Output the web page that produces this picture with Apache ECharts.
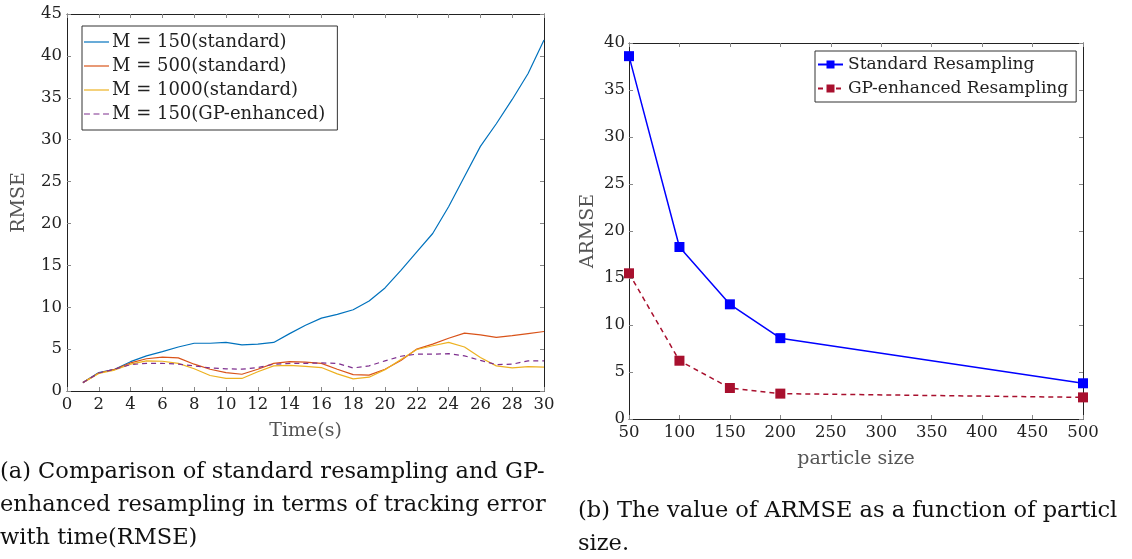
<!DOCTYPE html>
<html>
<head>
<meta charset="utf-8">
<script src="https://cdn.jsdelivr.net/npm/echarts@6/dist/echarts.min.js"></script>
<style>
html,body{margin:0;padding:0;background:#fff;}
#c{width:1132px;height:559px;}
</style>
</head>
<body>
<div id="c"></div>
<script>
// ---- Data: left chart (RMSE vs time) ----
const timeSteps = [1,2,3,4,5,6,7,8,9,10,11,12,13,14,15,16,17,18,19,20,21,22,23,24,25,26,27,28,29,30];
const rmse150 = [1.0,2.2,2.6,3.5,4.2,4.7,5.25,5.7,5.7,5.8,5.5,5.6,5.8,6.85,7.85,8.7,9.15,9.7,10.75,12.3,14.4,16.6,18.8,22.0,25.6,29.2,31.9,34.8,37.9,41.9];
const rmse500 = [1.0,2.15,2.6,3.35,3.85,4.05,3.95,3.2,2.6,2.2,2.0,2.6,3.3,3.5,3.45,3.3,2.6,1.95,1.9,2.6,3.65,5.0,5.6,6.3,6.9,6.7,6.4,6.6,6.85,7.1];
const rmse1000 = [1.0,2.1,2.5,3.2,3.6,3.55,3.3,2.65,1.85,1.5,1.5,2.3,3.0,3.05,2.95,2.8,2.05,1.45,1.65,2.55,3.75,4.95,5.4,5.8,5.25,4.0,3.0,2.75,2.9,2.85];
const rmse150gp = [1.0,2.15,2.6,3.15,3.3,3.3,3.2,3.0,2.75,2.65,2.6,2.8,3.2,3.3,3.3,3.35,3.3,2.75,3.0,3.6,4.15,4.4,4.4,4.45,4.2,3.65,3.15,3.2,3.6,3.6];
const leftNames = ['M = 150(standard)','M = 500(standard)','M = 1000(standard)','M = 150(GP-enhanced)'];

// ---- Data: right chart (ARMSE vs particle size) ----
const particleSizes = [50,100,150,200,500];
const armseStandard = [38.6,18.3,12.2,8.6,3.8];
const armseGP = [15.5,6.2,3.3,2.7,2.3];
const rightNames = ['Standard Resampling','GP-enhanced Resampling'];

const captionA = ['(a) Comparison of standard resampling and GP-','enhanced resampling in terms of tracking error','with time(RMSE)'];
const captionB = ['(b) The value of ARMSE as a function of particl','size.'];

const FONT = 'DejaVu Serif';
const pairs = (xs, ys) => xs.map((x,i)=>[x, ys[i]]);

const tickStyle = {show:true, inside:true, length:4, lineStyle:{color:'#888', width:1}};
const lineAx = {show:true, onZero:false, lineStyle:{color:'#222', width:1}};
const lbl = {color:'#222', fontFamily:FONT, fontSize:16.5};
const nameStyle = {fontFamily:FONT, fontSize:19, color:'#555'};

const dashIcon = 'path://M0,0h5v1h-5z M8,0h5v1h-5z M16,0h5v1h-5z';
const solidIcon = 'path://M0,0h21v1h-21z';

const chart = echarts.init(document.getElementById('c'), null, {renderer:'canvas'});

const option = {
  backgroundColor:'#fff',
  animation:false,
  grid:[
    {left:67, top:14, width:477, height:377, containLabel:false},
    {left:629, top:43, width:454, height:376, containLabel:false}
  ],
  xAxis:[
    {gridIndex:0, type:'value', min:0, max:30, interval:2, position:'bottom',
     axisLine:lineAx, axisTick:tickStyle, splitLine:{show:false},
     axisLabel:Object.assign({margin:5}, lbl),
     name:'Time(s)', nameLocation:'middle', nameGap:31, nameTextStyle:nameStyle},
    {gridIndex:0, type:'value', min:0, max:30, interval:2, position:'top',
     axisLine:lineAx, axisTick:tickStyle, splitLine:{show:false}, axisLabel:{show:false}},
    {gridIndex:1, type:'value', min:50, max:500, interval:50, position:'bottom',
     axisLine:lineAx, axisTick:tickStyle, splitLine:{show:false},
     axisLabel:Object.assign({margin:5}, lbl),
     name:'particle size', nameLocation:'middle', nameGap:31, nameTextStyle:nameStyle},
    {gridIndex:1, type:'value', min:50, max:500, interval:50, position:'top',
     axisLine:lineAx, axisTick:tickStyle, splitLine:{show:false}, axisLabel:{show:false}}
  ],
  yAxis:[
    {gridIndex:0, type:'value', min:0, max:45, interval:5, position:'left',
     axisLine:lineAx, axisTick:tickStyle, splitLine:{show:false},
     axisLabel:Object.assign({margin:5}, lbl),
     name:'RMSE', nameLocation:'middle', nameGap:38, nameTextStyle:nameStyle},
    {gridIndex:0, type:'value', min:0, max:45, interval:5, position:'right',
     axisLine:lineAx, axisTick:tickStyle, splitLine:{show:false}, axisLabel:{show:false}},
    {gridIndex:1, type:'value', min:0, max:40, interval:5, position:'left',
     axisLine:lineAx, axisTick:tickStyle, splitLine:{show:false},
     axisLabel:Object.assign({margin:4}, lbl),
     name:'ARMSE', nameLocation:'middle', nameGap:31, nameTextStyle:nameStyle},
    {gridIndex:1, type:'value', min:0, max:40, interval:5, position:'right',
     axisLine:lineAx, axisTick:tickStyle, splitLine:{show:false}, axisLabel:{show:false}}
  ],
  legend:[
    {data:[
       {name:leftNames[0], icon:solidIcon},
       {name:leftNames[1], icon:solidIcon},
       {name:leftNames[2], icon:solidIcon},
       {name:leftNames[3], icon:dashIcon}],
     orient:'vertical', left:82, top:26, itemWidth:25, itemHeight:1.3, itemGap:6,
     padding:[7,12,7,2], borderColor:'#333', borderWidth:1, backgroundColor:'#fff',
     textStyle:{fontFamily:FONT, fontSize:18, color:'#222', padding:[0,0,0,-2]}},
    {data:rightNames, orient:'vertical', left:815, top:51, itemWidth:25, itemHeight:10, itemGap:7,
     padding:[5,8,5,2], borderColor:'#333', borderWidth:1, backgroundColor:'#fff',
     textStyle:{fontFamily:FONT, fontSize:17, color:'#222'}}
  ],
  series:[
    {name:leftNames[0], type:'line', xAxisIndex:0, yAxisIndex:0, data:pairs(timeSteps, rmse150),
     symbol:'none', color:'#0072BD', lineStyle:{width:1.2}},
    {name:leftNames[1], type:'line', xAxisIndex:0, yAxisIndex:0, data:pairs(timeSteps, rmse500),
     symbol:'none', color:'#D95319', lineStyle:{width:1.2}},
    {name:leftNames[2], type:'line', xAxisIndex:0, yAxisIndex:0, data:pairs(timeSteps, rmse1000),
     symbol:'none', color:'#EDB120', lineStyle:{width:1.2}},
    {name:leftNames[3], type:'line', xAxisIndex:0, yAxisIndex:0, data:pairs(timeSteps, rmse150gp),
     symbol:'none', color:'#7E2F8E', lineStyle:{width:1.2, type:[5,4]}},
    {name:rightNames[0], type:'line', xAxisIndex:2, yAxisIndex:2, data:pairs(particleSizes, armseStandard),
     symbol:'rect', symbolSize:10, color:'#0000FF', lineStyle:{width:1.5}},
    {name:rightNames[1], type:'line', xAxisIndex:2, yAxisIndex:2, data:pairs(particleSizes, armseGP),
     symbol:'rect', symbolSize:10, color:'#A8102E', lineStyle:{width:1.5, type:[5,4]}}
  ],
  graphic:[
    {type:'text', left:0, top:456, style:{text:captionA.join('\n'), fontFamily:FONT, fontSize:22.5, lineHeight:33, fill:'#111'}},
    {type:'text', left:578, top:495, style:{text:captionB.join('\n'), fontFamily:FONT, fontSize:22.5, lineHeight:33, fill:'#111'}}
  ]
};
chart.setOption(option);
</script>
</body>
</html>
